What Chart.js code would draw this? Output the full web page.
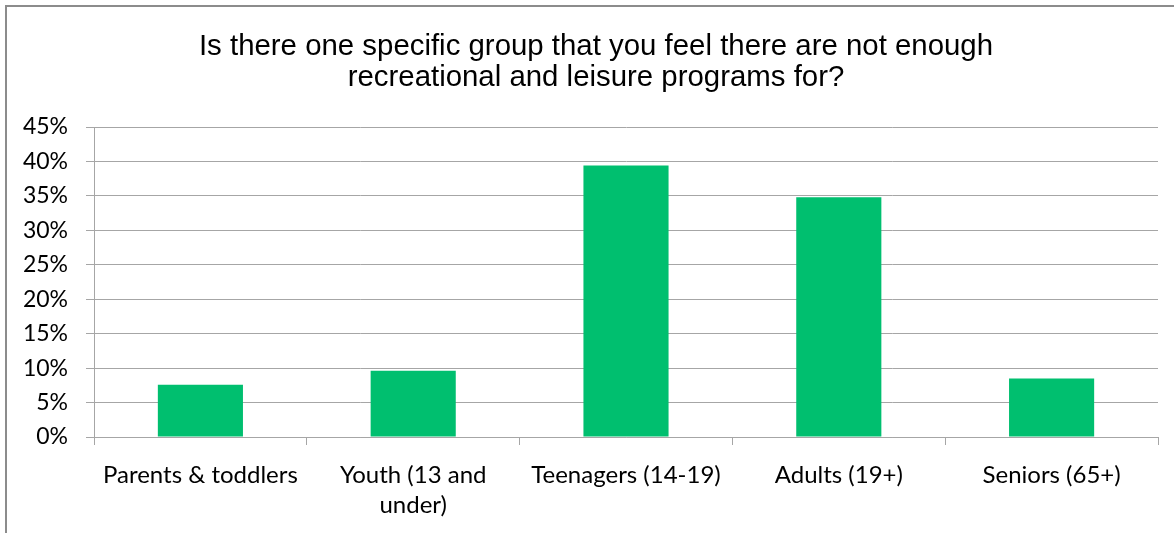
<!DOCTYPE html>
<html>
<head>
<meta charset="utf-8">
<script src="https://cdn.jsdelivr.net/npm/chart.js@4"></script>
<style>
    html, body { margin: 0; padding: 0; background: #fff; overflow: hidden; }
    #wrap { position: relative; width: 1174px; height: 533px; }
    #frame {
        position: absolute; left: 5px; top: 5px; width: 1200px; height: 600px;
        border-left: 2px solid #8c8c8c; border-top: 2px solid #8c8c8c;
    }
    #chartTitle {
        position: absolute; left: 0; top: 29px; width: 1192px;
        text-align: center; color: #000;
        font: 29.4px "Liberation Sans", Arial, sans-serif; line-height: 31px;
    }
    canvas { position: absolute; left: 0; top: 0; }
</style>
</head>
<body>
<div id="wrap">
    <div id="frame"></div>
    <canvas id="groupChart" width="1174" height="533"></canvas>
    <div id="chartTitle"></div>
</div>
<script>
// Chart data
const titleLines = ['Is there one specific group that you feel there are not enough', 'recreational and leisure programs for?'];
const groupLabels = [['Parents & toddlers'], ['Youth (13 and', 'under)'], ['Teenagers (14-19)'], ['Adults (19+)'], ['Seniors (65+)']];
const groupPercents = [7.6, 9.6, 39.4, 34.8, 8.5];
const yTickValues = [0, 5, 10, 15, 20, 25, 30, 35, 40, 45];

const BAR_COLOR = '#00bf6f';
const GRID_COLOR = '#a6a6a6';

// title as page text, centred on the frame rather than the plot
const titleEl = document.getElementById('chartTitle');
titleLines.forEach(line => {
    const div = document.createElement('div');
    div.textContent = line;
    titleEl.appendChild(div);
});

const ctx = document.getElementById('groupChart').getContext('2d');
const config = {
    type: 'bar',
    data: {
        labels: groupLabels,
        datasets: [{
            label: 'Share of responses',
            data: groupPercents,
            backgroundColor: BAR_COLOR,
            borderWidth: 0,
            barPercentage: 0.4,
            categoryPercentage: 1.0
        }]
    },
    options: {
        responsive: false,
        animation: false,
        layout: {
            padding: { left: 0, right: 16, top: 127, bottom: 0 }
        },
        scales: {
            y: {
                min: 0,
                max: 45,
                afterFit: function(scale) { scale.width = 94; },
                afterBuildTicks: function(scale) {
                    scale.ticks = yTickValues.map(v => ({ value: v }));
                },
                ticks: {
                    color: '#000',
                    font: { family: 'Lato, "Open Sans", sans-serif', size: 23 },
                    padding: 18,
                    callback: v => v + '%'
                },
                grid: {
                    color: GRID_COLOR,
                    lineWidth: 1,
                    tickLength: 8
                },
                border: { color: GRID_COLOR, width: 1 }
            },
            x: {
                afterFit: function(scale) { scale.height = 96; },
                ticks: {
                    color: '#000',
                    font: { family: 'Lato, "Open Sans", sans-serif', size: 24, lineHeight: 1.25 },
                    padding: 15,
                    maxRotation: 0,
                    autoSkip: false
                },
                grid: {
                    color: GRID_COLOR,
                    lineWidth: 1,
                    offset: true,
                    drawOnChartArea: false,
                    drawTicks: true,
                    tickLength: 8
                },
                border: { color: GRID_COLOR, width: 1 }
            }
        },
        plugins: {
            legend: { display: false },
            tooltip: { enabled: false },
            title: { display: false }
        }
    }
};

const groupChart = new Chart(ctx, config);
</script>
</body>
</html>
